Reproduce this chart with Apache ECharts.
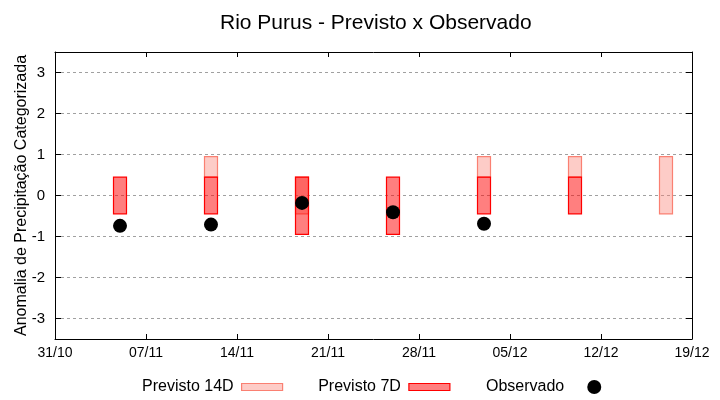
<!DOCTYPE html>
<html>
<head>
<meta charset="utf-8">
<script src="https://cdn.jsdelivr.net/npm/echarts@6/dist/echarts.min.js"></script>
<style>html,body{margin:0;padding:0;background:#fff}#c{width:720px;height:400px}</style>
</head>
<body>
<div id="c"></div>
<script>
var startDate = '31/10';
var xTickLabels = ['31/10','07/11','14/11','21/11','28/11','05/12','12/12','19/12'];
var yTickValues = [-3,-2,-1,0,1,2,3];

var dates14 = ['12/11','19/11','03/12','10/12','17/12'];
var low14   = [0.45, -0.45, 0.45, 0.45, -0.45];
var high14  = [0.95, 0.45, 0.95, 0.95, 0.95];

var dates7 = ['05/11','12/11','19/11','26/11','03/12','10/12'];
var low7   = [-0.45, -0.45, -0.95, -0.95, -0.45, -0.45];
var high7  = [0.45, 0.45, 0.45, 0.45, 0.45, 0.45];

var obsDates  = ['05/11','12/11','19/11','26/11','03/12'];
var obsValues = [-0.74, -0.71, -0.18, -0.41, -0.69];

// all dates fall in Oct-Dec of the same year
function dayOff(s){
  var p = s.split('/');
  var b = startDate.split('/');
  return Math.round((Date.UTC(2023, +p[1]-1, +p[0]) - Date.UTC(2023, +b[1]-1, +b[0])) / 86400000);
}

var data14 = dates14.map(function(d,i){ return [dayOff(d), low14[i], high14[i]]; });
var data7  = dates7.map(function(d,i){ return [dayOff(d), low7[i], high7[i]]; });
var dataObs = obsDates.map(function(d,i){ return [dayOff(d), obsValues[i]]; });

function boxRender(fill, stroke){
  return function(params, api){
    var x = api.value(0);
    var p1 = api.coord([x - 0.5, api.value(2)]);
    var p2 = api.coord([x + 0.5, api.value(1)]);
    return {
      type: 'rect',
      shape: {x: p1[0], y: p1[1], width: p2[0]-p1[0], height: p2[1]-p1[1]},
      style: {fill: fill, stroke: stroke, lineWidth: 1.2}
    };
  };
}

var sansFont = "'Liberation Sans',Arial,sans-serif";
var fill14 = 'rgba(250,128,114,0.4)', stroke14 = '#fa8072';
var fill7 = 'rgba(255,0,0,0.5)', stroke7 = '#ff0000';

var chart = echarts.init(document.getElementById('c'), null, {renderer: 'canvas'});
chart.setOption({
  animation: false,
  backgroundColor: '#fff',
  title: {
    text: 'Rio Purus - Previsto x Observado',
    left: 215, top: 8,
    textStyle: {fontFamily: sansFont, fontSize: 21, fontWeight: 'normal', color: '#000'}
  },
  grid: {left: 55, right: 28, top: 52, bottom: 61, containLabel: false, outerBoundsMode: 'none'},
  legend: [{
    left: 142, top: 379, align: 'right', padding: 0,
    itemWidth: 41, itemHeight: 7, itemGap: 35,
    textStyle: {fontFamily: sansFont, fontSize: 16, color: '#000', padding: [0, 3, 0, 0]},
    data: [
      {name: 'Previsto 14D', icon: 'rect', itemStyle: {color: fill14, borderColor: stroke14, borderWidth: 1.2}},
      {name: 'Previsto 7D', icon: 'rect', itemStyle: {color: fill7, borderColor: stroke7, borderWidth: 1.2}}
    ]
  }, {
    left: 486, top: 379, align: 'right', padding: 0,
    itemWidth: 44, itemHeight: 14,
    textStyle: {fontFamily: sansFont, fontSize: 16, color: '#000', padding: [0, 3, 0, 0]},
    data: [{name: 'Observado', icon: 'circle', itemStyle: {color: '#000'}}]
  }],
  xAxis: [{
    type: 'value', min: 0, max: 49, interval: 7, position: 'bottom',
    axisLine: {show: true, onZero: false, lineStyle: {color: '#000', width: 1}},
    axisTick: {show: true, inside: true, length: 5, lineStyle: {color: '#000'}},
    axisLabel: {margin: 7, formatter: function(v){ return xTickLabels[Math.round(v/7)] || ''; }, fontFamily: sansFont, fontSize: 14, color: '#000'},
    splitLine: {show: false}
  }, {
    type: 'value', min: 0, max: 49, interval: 7, position: 'top',
    axisLine: {show: true, onZero: false, lineStyle: {color: '#000', width: 1}},
    axisTick: {show: true, inside: true, length: 5, lineStyle: {color: '#000'}},
    axisLabel: {show: false}, splitLine: {show: false}
  }],
  yAxis: [{
    type: 'value', min: -3.5, max: 3.5, position: 'left',
    name: 'Anomalia de Precipitação Categorizada', nameLocation: 'middle', nameGap: 25, nameRotate: 90,
    nameMoveOverlap: false,
    nameTextStyle: {fontFamily: sansFont, fontSize: 16, color: '#000'},
    axisLine: {show: true, onZero: false, lineStyle: {color: '#000', width: 1}},
    axisTick: {show: true, inside: true, length: 6, customValues: yTickValues, lineStyle: {color: '#000'}},
    axisLabel: {margin: 10, customValues: yTickValues, fontFamily: sansFont, fontSize: 15, color: '#000'},
    splitLine: {show: true, lineStyle: {color: '#a0a0a0', type: [3,3], width: 1}}
  }, {
    type: 'value', min: -3.5, max: 3.5, position: 'right',
    axisLine: {show: true, onZero: false, lineStyle: {color: '#000', width: 1}},
    axisTick: {show: true, inside: true, length: 6, customValues: yTickValues, lineStyle: {color: '#000'}},
    axisLabel: {show: false}, splitLine: {show: false}
  }],
  series: [{
    name: 'Previsto 14D', type: 'custom', xAxisIndex: 0, yAxisIndex: 0,
    renderItem: boxRender(fill14, stroke14),
    itemStyle: {color: fill14, borderColor: stroke14},
    encode: {x: 0, y: [1, 2]},
    data: data14, z: 2
  }, {
    name: 'Previsto 7D', type: 'custom', xAxisIndex: 0, yAxisIndex: 0,
    renderItem: boxRender(fill7, stroke7),
    itemStyle: {color: fill7, borderColor: stroke7},
    encode: {x: 0, y: [1, 2]},
    data: data7, z: 3
  }, {
    name: 'Observado', type: 'scatter', symbol: 'circle', symbolSize: 14,
    itemStyle: {color: '#000', opacity: 1},
    data: dataObs, z: 5
  }]
});
</script>
</body>
</html>
